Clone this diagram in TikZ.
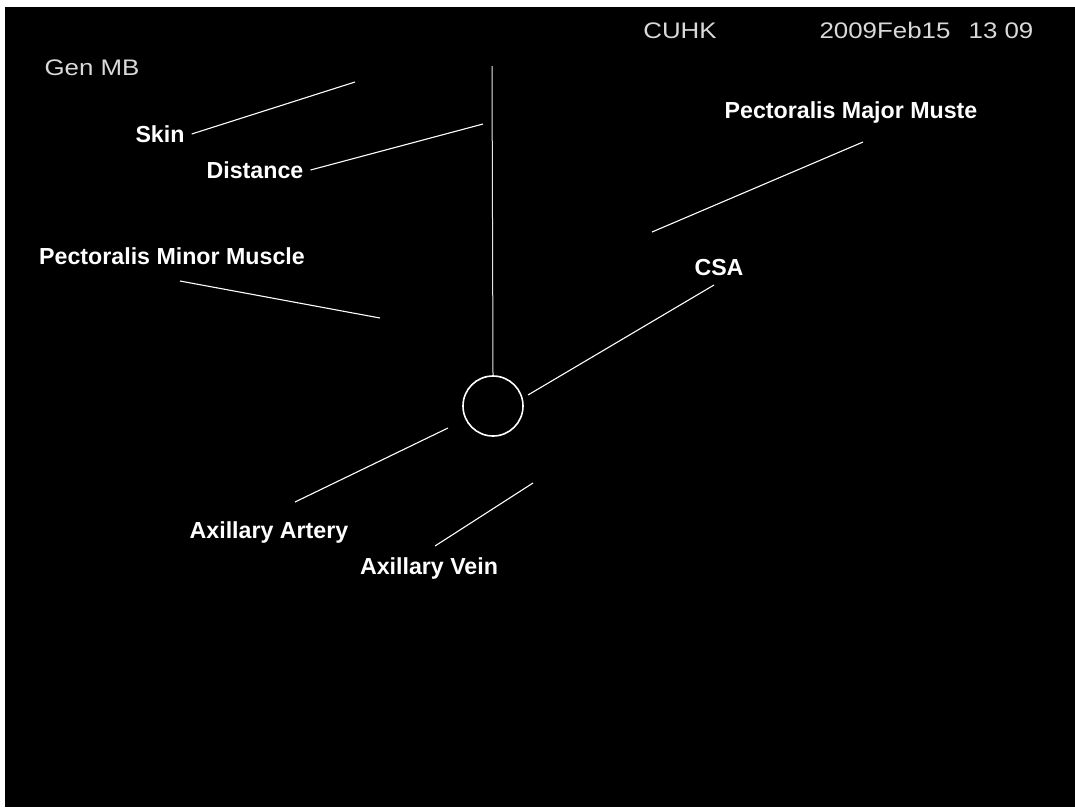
\documentclass[tikz,border=0pt]{standalone}
\usepackage{fontspec}
\setmainfont{Liberation Sans}
\begin{document}
\begin{tikzpicture}[x=1pt, y=-1pt,
    lbl/.style={white, font=\fontsize{23.2}{27}\selectfont\bfseries, inner sep=1pt},
    scr/.style={white!85!black, font=\fontsize{22.5}{26}\selectfont, xscale=1.15, anchor=base, inner sep=0pt},
    ptr/.style={white, line width=1.1pt}]
    % 背景
    \fill[white] (0, 0) rectangle (1075, 807);
    \fill[black] (5, 7) rectangle (1075, 807);
    
    % 屏幕信息
    \node[scr] (gen) at (92, 75) {Gen MB};
    \node[scr] (cuhk) at (680, 38) {CUHK};
    \node[scr] (date) at (885, 38) {2009Feb15};
    \node[scr] (time) at (1001, 38) {13 09};
    
    % CSA 圆与距离线
    \node[draw=white, circle, line width=1.6pt, minimum size=60pt, inner sep=0pt] (csacirc) at (493, 406) {};
    \coordinate (probe) at (492, 66);
    \draw[white!90!black, line width=1pt] (probe) -- (csacirc.north);
    
    % 标注
    \node[lbl] (skin) at (160, 134) {Skin};
    \node[lbl] (dist) at (255, 170) {Distance};
    \node[lbl] (major) at (851, 112) {Pectoralis Major Muste};
    \node[lbl] (minor) at (172, 256) {Pectoralis Minor Muscle};
    \node[lbl] (csa) at (719, 268) {CSA};
    \node[lbl] (artery) at (269, 532) {Axillary Artery};
    \node[lbl] (vein) at (429, 568) {Axillary Vein};
    
    % 指示线
    \coordinate (skinend) at (355, 82);
    \coordinate (distend) at (483, 124);
    \coordinate (majA) at (863, 142);
    \coordinate (majB) at (652, 232);
    \coordinate (minA) at (180, 281);
    \coordinate (minB) at (380, 318);
    \coordinate (csaA) at (714, 285);
    \coordinate (csaB) at (528, 395);
    \coordinate (artA) at (295, 502);
    \coordinate (artB) at (448, 428);
    \coordinate (veinA) at (435, 546);
    \coordinate (veinB) at (533, 483);
    \draw[ptr] ([xshift=6pt]skin.east) -- (skinend);
    \draw[ptr] ([xshift=6pt]dist.east) -- (distend);
    \draw[ptr] (majA) -- (majB);
    \draw[ptr] (minA) -- (minB);
    \draw[ptr] (csaA) -- (csaB);
    \draw[ptr] (artA) -- (artB);
    \draw[ptr] (veinA) -- (veinB);
\end{tikzpicture}
\end{document}
